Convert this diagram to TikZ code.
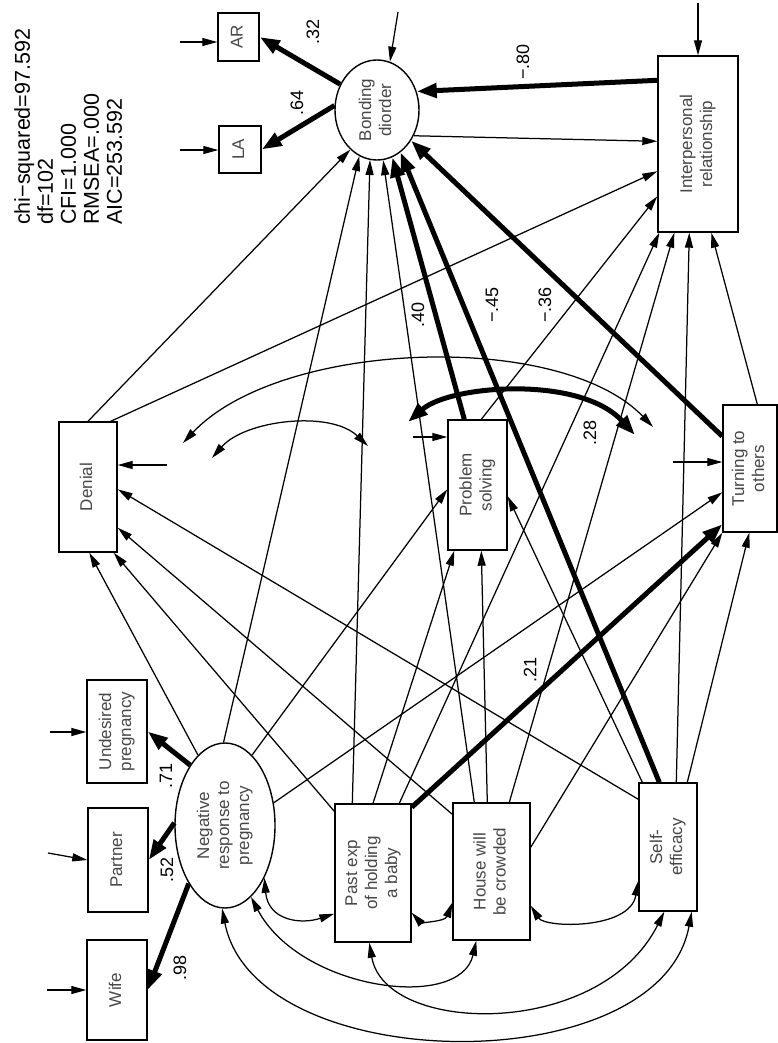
\documentclass[tikz,border=0pt]{standalone}
\usepackage{fontspec}
\setmainfont{Liberation Sans}
\usepackage{graphicx}
\usetikzlibrary{arrows.meta,shapes.geometric,calc}
\newcommand{\boxfont}{\fontsize{17}{20}\selectfont}
\newcommand{\coeffont}{\fontsize{18}{20}\selectfont}
\newcommand{\statfont}{\fontsize{21.5}{23}\selectfont}
\newcommand{\vtext}[1]{\rotatebox{90}{\begin{tabular}{@{}c@{}}#1\end{tabular}}}
\tikzset{
  sbox/.style={draw, line width=1.4pt, inner sep=0pt, text=black!72, font=\boxfont},
  lat/.style={ellipse, draw, line width=1.4pt, inner sep=0pt, text=black!72, font=\boxfont},
  thinarr/.style={line width=1.25pt, -{Triangle[length=15pt,width=8pt]}},
  heavy/.style={line width=5pt, -{Triangle[length=20pt,width=14pt]}},
  cov/.style={line width=1.25pt, {Triangle[length=15pt,width=8pt]}-{Triangle[length=15pt,width=8pt]}},
  heavycov/.style={line width=5pt, {Triangle[length=20pt,width=14pt]}-{Triangle[length=20pt,width=14pt]}},
  coef/.style={rotate=90, font=\coeffont, inner sep=0pt},
}
\begin{document}
\begin{tikzpicture}[x=1pt,y=-1pt]
\fill[white] (0,0) rectangle (778,1043);
\useasboundingbox (0,0) rectangle (778,1043);

% fit statistics
\node[rotate=90, anchor=north west, align=left, font=\statfont, inner sep=0pt] (stats) at (14,225)
  {chi−squared=97.592\\df=102\\CFI=1.000\\RMSEA=.000\\AIC=253.592};

% variables
\node[sbox, minimum width=41pt, minimum height=48pt] (ar) at (238.5,37) {\vtext{AR}};
\node[sbox, minimum width=42pt, minimum height=47pt] (la) at (240,149.5) {\vtext{LA}};
\node[lat, minimum width=84pt, minimum height=100pt] (bond) at (377,110) {\vtext{Bonding\\diorder}};
\node[sbox, minimum width=80pt, minimum height=176pt] (ip) at (698,144) {\vtext{Interpersonal\\relationship}};
\node[sbox, minimum width=58pt, minimum height=130pt] (den) at (88,487) {\vtext{Denial}};
\node[sbox, minimum width=59pt, minimum height=130pt] (prob) at (477.5,485) {\vtext{Problem\\solving}};
\node[sbox, minimum width=54pt, minimum height=127pt] (turn) at (750,468.5) {\vtext{Turning to\\others}};
\node[sbox, minimum width=60pt, minimum height=103pt] (und) at (117,731.5) {\vtext{Undesired\\pregnancy}};
\node[sbox, minimum width=60pt, minimum height=104pt] (part) at (118,860) {\vtext{Partner}};
\node[sbox, minimum width=60pt, minimum height=100pt] (wife) at (117,990) {\vtext{Wife}};
\node[lat, minimum width=100pt, minimum height=165pt] (neg) at (225,825.5) {\vtext{Negative\\response to\\pregnancy}};
\node[sbox, minimum width=76pt, minimum height=138pt] (past) at (373,873) {\vtext{Past exp\\of holding\\a baby}};
\node[sbox, minimum width=77pt, minimum height=137pt] (house) at (491.5,871.5) {\vtext{House will\\be crowded}};
\node[sbox, minimum width=58pt, minimum height=128pt] (self) at (668,847) {\vtext{Self-\\efficacy}};

% error terms
\coordinate (eAR) at (180,42);  \draw[thinarr] (eAR) -- (ar.west |- eAR);
\coordinate (eLA) at (180,150); \draw[thinarr] (eLA) -- (la.west |- eLA);
\coordinate (eBD) at (398,12);  \draw[thinarr] (eBD) -- (bond.75);
\coordinate (eIP) at (698,3);   \draw[thinarr] (eIP) -- (ip.north);
\coordinate (eDN) at (167,465); \draw[thinarr] (eDN) -- (den.east |- eDN);
\coordinate (ePS) at (413,437); \draw[thinarr] (ePS) -- (prob.west |- ePS);
\coordinate (eTO) at (673,462); \draw[thinarr] (eTO) -- (turn.west |- eTO);
\coordinate (eUP) at (50,732);  \draw[thinarr] (eUP) -- (und.west |- eUP);
\coordinate (ePA) at (48,853);  \draw[thinarr] (ePA) -- (part.west);
\coordinate (eWF) at (47,990);  \draw[thinarr] (eWF) -- (wife.west);

% measurement paths
\draw[heavy] (bond.145) -- (ar.east);
\draw[heavy] (bond.174) -- (la.east);
\draw[heavy] (neg.120) -- (und.east);
\draw[heavy] (neg.177) -- (part.east);
\draw[heavy] (neg.238) -- (wife.east);

% paths to Denial
\draw[thinarr] (neg.111) -- ($(den.south west)+(31,0)$);
\draw[thinarr] ($(past.north west)+(0,8)$) -- ($(den.south east)+(-4,0)$);
\draw[thinarr] ($(house.north west)+(0,12)$) -- ($(den.south east)+(0,-25)$);
\draw[thinarr] ($(self.north west)+(0,17)$) -- ($(den.north east)+(0,68)$);

% paths to Problem solving
\draw[thinarr] (neg.69) -- ($(prob.north west)+(0,70)$);
\draw[thinarr] (past.north) -- ($(prob.south west)+(7,0)$);
\draw[thinarr] ($(house.north west)+(35,0)$) -- ($(prob.south west)+(34,0)$);
\draw[thinarr] ($(self.north west)+(4,0)$) -- ($(prob.north east)+(0,77)$);

% paths to Turning to others
\draw[thinarr] (neg.25) -- ($(turn.north west)+(0,88)$);
\draw[heavy] ($(past.north east)+(0,4)$) -- ($(turn.north west)+(0,120)$);
\draw[thinarr] ($(house.north east)+(0,45)$) -- (turn.south west);
\draw[thinarr] ($(self.north west)+(49,0)$) -- ($(turn.south west)+(27,0)$);

% paths to Bonding diorder
\draw[thinarr] (den.north) -- (bond.236);
\draw[thinarr] (neg.91) -- (bond.249);
\draw[thinarr] ($(past.north west)+(18,0)$) -- (bond.262);
\draw[thinarr] ($(house.north west)+(22,0)$) -- (bond.277);
\draw[heavy] ($(prob.north west)+(17,0)$) -- (bond.288);
\draw[heavy] ($(self.north west)+(21,0)$) -- (bond.299);
\draw[heavy] ($(turn.north west)+(0,32)$) -- (bond.318);
\draw[heavy] ($(ip.north west)+(0,25)$) -- (bond.25);

% paths to Interpersonal relationship
\draw[thinarr] (bond.-35) -- ($(ip.north west)+(0,86)$);
\draw[thinarr] ($(den.north east)+(-7,0)$) -- ($(ip.north west)+(0,116)$);
\draw[thinarr] ($(prob.north west)+(34,0)$) -- ($(ip.north west)+(0,141)$);
\draw[thinarr] ($(past.north west)+(65,0)$) -- ($(ip.south west)+(2,0)$);
\draw[thinarr] ($(house.north west)+(57,0)$) -- ($(ip.south west)+(17,0)$);
\draw[thinarr] ($(self.north west)+(38,0)$) -- ($(ip.south west)+(32,0)$);
\draw[thinarr] ($(turn.north west)+(35,0)$) -- ($(ip.south west)+(54,0)$);

% residual covariances
\coordinate (ra1) at (183,443); \coordinate (ra2) at (653,427);
\draw[cov] (ra1) .. controls (280,340) and (560,330) .. (ra2);
\coordinate (rb1) at (212,458); \coordinate (rb2) at (368,446);
\draw[cov] (rb1) .. controls (245,420) and (330,410) .. (rb2);
\coordinate (rc1) at (408,422); \coordinate (rc2) at (635,435);
\draw[heavycov] (rc1) .. controls (450,385) and (580,375) .. (rc2);

% covariances among exogenous variables
\draw[cov] (neg.-53) .. controls (268,920) and (300,925) .. ($(past.south west)+(0,-29)$);
\draw[cov] ($(past.south east)+(0,-30)$) .. controls (420,922) and (445,922) .. ($(house.south west)+(0,-38)$);
\draw[cov] ($(house.south east)+(0,-35)$) .. controls (545,928) and (630,930) .. ($(self.south west)+(0,-31)$);
\draw[cov] (neg.-70) .. controls (300,990) and (460,1012) .. ($(house.south west)+(24,0)$);
\draw[cov] ($(past.south west)+(35,0)$) .. controls (385,1035) and (600,1040) .. ($(self.south west)+(26,0)$);
\draw[cov] (neg.-92) .. controls (255,1078) and (660,1083) .. ($(self.south east)+(-6,0)$);

% coefficients
\node[coef] (c32) at (313,32) {.32};
\node[coef] (c64) at (297,103) {.64};
\node[coef] (c80) at (523,62) {−.80};
\node[coef] (c40) at (418,315) {.40};
\node[coef] (c45) at (492,305) {−.45};
\node[coef] (c36) at (545,305) {−.36};
\node[coef] (c28) at (590,433) {.28};
\node[coef] (c21) at (530,670) {.21};
\node[coef] (c71) at (166,776) {.71};
\node[coef] (c52) at (167,870) {.52};
\node[coef] (c98) at (180,968) {.98};
\end{tikzpicture}
\end{document}
